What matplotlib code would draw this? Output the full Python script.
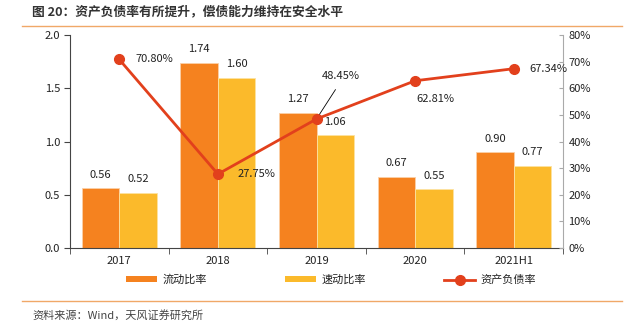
import matplotlib.pyplot as plt
from matplotlib.lines import Line2D
from matplotlib.patches import Patch
import numpy as np

plt.rcParams['font.family'] = ['Noto Sans CJK SC', 'DejaVu Sans']

years = ['2017', '2018', '2019', '2020', '2021H1']
current_ratio = [0.56, 1.74, 1.27, 0.67, 0.90]
quick_ratio = [0.52, 1.60, 1.06, 0.55, 0.77]
debt_ratio = [70.80, 27.75, 48.45, 62.81, 67.34]

c_orange = '#F5821F'
c_yellow = '#FBBA2B'
c_line = '#E2401C'
c_text = '#222222'

W, H = 642, 332
fig = plt.figure(figsize=(W / 100, H / 100), dpi=100)

ax = fig.add_axes([70 / W, (H - 248) / H, (563 - 70) / W, (248 - 35) / H])
x = np.arange(len(years))
bw = 0.38
ax.bar(x - bw / 2, current_ratio, bw, color=c_orange, edgecolor='#FBD0A8', linewidth=0.6)
ax.bar(x + bw / 2, quick_ratio, bw, color=c_yellow, edgecolor='#FDE2A0', linewidth=0.6)
ax.set_xlim(-0.5, len(years) - 0.5)
ax.set_ylim(0, 2.0)
ax.set_yticks([0, 0.5, 1.0, 1.5, 2.0])
ax.set_yticklabels(['0.0', '0.5', '1.0', '1.5', '2.0'], fontsize=8, color=c_text)
ax.set_xticks(x)
ax.set_xticklabels(years, fontsize=8, color=c_text)
ax.tick_params(axis='x', length=0, pad=6)
ax.set_xticks(np.arange(-0.5, len(years)), minor=True)
ax.tick_params(axis='x', which='minor', length=4, color='#444444')
ax.tick_params(axis='y', length=4, color='#444444', pad=3)
for s in ['top', 'right']:
    ax.spines[s].set_visible(False)
ax.spines['left'].set_color('#444444')
ax.spines['bottom'].set_color('#444444')

for i in range(len(years)):
    ax.text(x[i] - bw / 2, current_ratio[i] + 0.08, f'{current_ratio[i]:.2f}',
            ha='center', va='bottom', fontsize=8, color=c_text)
    ax.text(x[i] + bw / 2, quick_ratio[i] + 0.08, f'{quick_ratio[i]:.2f}',
            ha='center', va='bottom', fontsize=8, color=c_text)

ax2 = ax.twinx()
ax2.plot(x, debt_ratio, color=c_line, linewidth=2, marker='o', markersize=7, zorder=5)
ax2.set_ylim(0, 80)
ax2.set_yticks(range(0, 81, 10))
ax2.set_yticklabels([f'{v}%' for v in range(0, 81, 10)], fontsize=8, color=c_text)
ax2.tick_params(axis='y', length=3, direction='in', color='#AAAAAA', pad=4)
for s in ['top', 'left', 'bottom']:
    ax2.spines[s].set_visible(False)
ax2.spines['right'].set_color('#AAAAAA')

lbl = [f'{v:.2f}%' for v in debt_ratio]
ax2.annotate(lbl[0], (x[0], debt_ratio[0]), xytext=(12, 0), textcoords='offset points',
             ha='left', va='center', fontsize=8, color=c_text)
ax2.annotate(lbl[1], (x[1], debt_ratio[1]), xytext=(14, 0), textcoords='offset points',
             ha='left', va='center', fontsize=8, color=c_text)
ax2.annotate(lbl[2], (x[2], debt_ratio[2]), xytext=(4, 31), textcoords='offset points',
             ha='left', va='center', fontsize=8, color=c_text,
             arrowprops=dict(arrowstyle='-', color='black', lw=0.6, shrinkA=5, shrinkB=0,
                             relpos=(0.5, 0)))
ax2.annotate(lbl[3], (x[3], debt_ratio[3]), xytext=(1, -13), textcoords='offset points',
             ha='left', va='center', fontsize=8, color=c_text)
ax2.annotate(lbl[4], (x[4], debt_ratio[4]), xytext=(11, 0), textcoords='offset points',
             ha='left', va='center', fontsize=8, color=c_text)

handles = [Patch(facecolor=c_orange, edgecolor='none'),
           Patch(facecolor=c_yellow, edgecolor='none'),
           Line2D([], [], color=c_line, linewidth=2, marker='o', markersize=7)]
fig.legend(handles, ['流动比率', '速动比率', '资产负债率'], loc='center',
           bbox_to_anchor=(0.516, (H - 280) / H), ncol=3, frameon=False, fontsize=8,
           columnspacing=7.0, handlelength=2.8, handleheight=0.5, handletextpad=0.5,
           labelcolor=c_text)

fig.text(32 / W, (H - 12) / H, '图 20：资产负债率有所提升，偿债能力维持在安全水平',
         fontsize=9.2, fontweight='bold', color='#333333', ha='left', va='center')
fig.add_artist(Line2D([22 / W, 622 / W], [(H - 26) / H] * 2, color='#F0A868', linewidth=1))
fig.add_artist(Line2D([22 / W, 622 / W], [(H - 301) / H] * 2, color='#F0A868', linewidth=1))
fig.text(32 / W, (H - 315) / H, '资料来源：Wind，天风证券研究所', fontsize=8,
         color='#444444', ha='left', va='center')

fig.savefig('out.png', dpi=100)
